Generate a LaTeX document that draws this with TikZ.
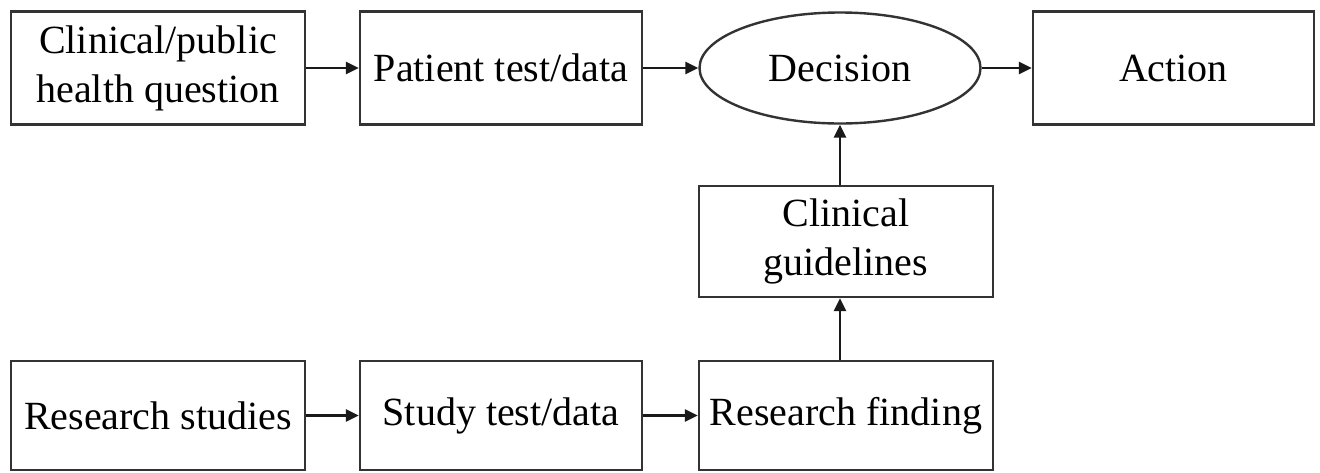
\documentclass[tikz,border=0pt]{standalone}
\usepackage{fontspec}
\setmainfont{Liberation Serif}
\usetikzlibrary{arrows.meta,shapes.geometric}

\begin{document}
\begin{tikzpicture}[x=0.5pt,y=0.5pt,yscale=-1,
  box/.style={draw=black!80,line width=1.2pt,inner sep=0.75pt,align=center,font=\fontsize{20}{24.5}\selectfont},
  link/.style={draw=black!90,line width=1.3pt,-{Triangle[length=6.5pt,width=6pt]}}]
\useasboundingbox (0,0) rectangle (1320,472);

% Text Node
\draw (158,68) node [box,minimum width=147pt,minimum height=56.5pt] (quest) {Clinical/public\\health question};
% Text Node
\draw (501,68) node [box,minimum width=141pt,minimum height=56.5pt] (ptest) {Patient test/data};
% Text Node
\draw (840,68) node [box,ellipse,minimum width=140.5pt,minimum height=55.5pt] (dec) {Decision};
% Text Node
\draw (1173.5,68) node [box,minimum width=140.5pt,minimum height=56.5pt] (act) {Action};
% Text Node
\draw (846,241.5) node [box,minimum width=147pt,minimum height=55.5pt] (guide) {Clinical\\guidelines};
% Text Node
\draw (158,415.5) node [box,minimum width=147pt,minimum height=54.5pt] (rstud) {Research studies};
% Text Node
\draw (501,415.5) node [box,minimum width=141pt,minimum height=54.5pt] (stest) {Study test/data};
% Text Node
\draw (846,415.5) node [box,minimum width=147pt,minimum height=54.5pt] (rfind) {Research finding};

%Straight Lines
\draw [link] (quest) -- (ptest) ;
%Straight Lines
\draw [link] (ptest) -- (dec) ;
%Straight Lines
\draw [link] (dec) -- (act) ;
%Straight Lines
\draw [link] (guide.north -| dec.south) -- (dec.south) ;
%Straight Lines
\draw [link] (rfind.north -| dec.south) -- (guide.south -| dec.south) ;
%Straight Lines
\draw [link] (rstud) -- (stest) ;
%Straight Lines
\draw [link] (stest) -- (rfind) ;

\end{tikzpicture}
\end{document}
